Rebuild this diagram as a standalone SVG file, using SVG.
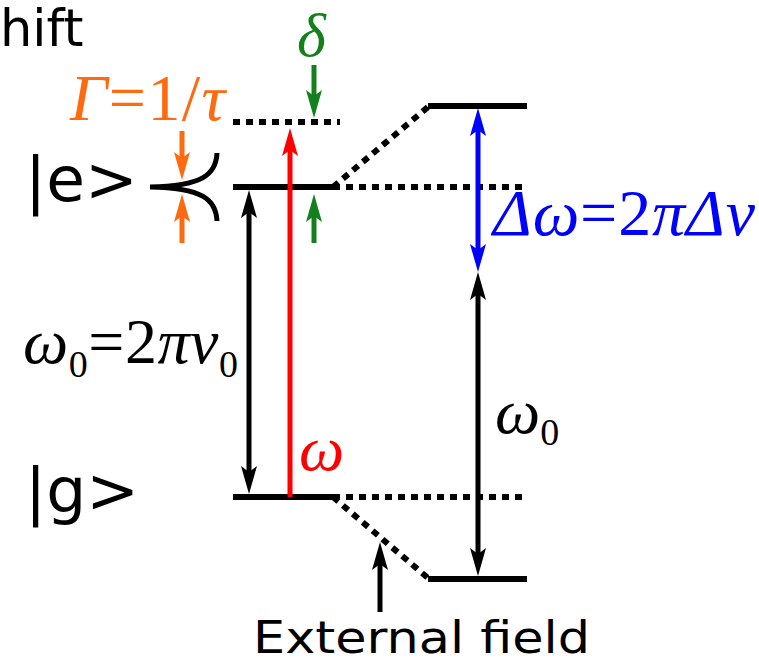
<svg xmlns="http://www.w3.org/2000/svg" width="759" height="664" viewBox="0 0 759 664">
<style>
.lvl{stroke:#000;stroke-width:6;fill:none}
.dot{stroke:#000;stroke-width:6;fill:none;stroke-dasharray:7 6}
.lab{font-family:"DejaVu Sans",Verdana,sans-serif;fill:#000}
.math{font-family:"Liberation Serif","Times New Roman","DejaVu Serif",serif}
.it{font-style:italic}
.arr{fill:none;stroke-width:5}
</style>
<defs>
<marker id="hK" viewBox="0 -10 30 20" markerWidth="30" markerHeight="20" refX="14" refY="0" orient="auto-start-reverse" markerUnits="userSpaceOnUse"><path d="M0,-8 L28,0 L0,8 L6,0 Z" fill="#000"/></marker>
<marker id="hR" viewBox="0 -10 30 20" markerWidth="30" markerHeight="20" refX="14" refY="0" orient="auto-start-reverse" markerUnits="userSpaceOnUse"><path d="M0,-8 L28,0 L0,8 L6,0 Z" fill="#ff0000"/></marker>
<marker id="hB" viewBox="0 -10 30 20" markerWidth="30" markerHeight="20" refX="14" refY="0" orient="auto-start-reverse" markerUnits="userSpaceOnUse"><path d="M0,-8 L28,0 L0,8 L6,0 Z" fill="#0000ff"/></marker>
<marker id="hG" viewBox="0 -10 30 20" markerWidth="30" markerHeight="20" refX="14" refY="0" orient="auto-start-reverse" markerUnits="userSpaceOnUse"><path d="M0,-8 L28,0 L0,8 L6,0 Z" fill="#13801b"/></marker>
<marker id="hO" viewBox="0 -10 30 20" markerWidth="30" markerHeight="20" refX="14" refY="0" orient="auto-start-reverse" markerUnits="userSpaceOnUse"><path d="M0,-8 L28,0 L0,8 L6,0 Z" fill="#ff6a10"/></marker>
</defs>

<text class="lab" x="0" y="46" font-size="51">hift</text>

<g id="level-e">
<line class="lvl" x1="233" y1="187" x2="333" y2="187"/>
<text class="lab" x="25" y="201" font-size="63">|e&gt;</text>
<path d="M217,153 C216,175 202,186 150,187 C202,188 216,199 217,221" fill="none" stroke="#000" stroke-width="5"/>
</g>
<g id="level-virtual">
<line class="dot" x1="233" y1="122" x2="340" y2="122"/>
</g>
<g id="level-g">
<line class="lvl" x1="233" y1="497" x2="333" y2="497"/>
<text class="lab" x="25" y="512" font-size="63">|g&gt;</text>
</g>
<g id="level-e-shifted">
<line class="lvl" x1="428" y1="106" x2="527" y2="106"/>
</g>
<g id="level-g-shifted">
<line class="lvl" x1="428" y1="579" x2="527" y2="579"/>
</g>
<g id="level-e-ref">
<line class="dot" x1="333" y1="187" x2="522" y2="187"/>
</g>
<g id="level-g-ref">
<line class="dot" x1="333" y1="497" x2="522" y2="497"/>
</g>

<g id="connectors">
<line class="dot" x1="333" y1="187" x2="428" y2="107"/>
<line class="dot" x1="333" y1="497" x2="428" y2="578"/>
<line class="arr" stroke="#000" x1="249" y1="204" x2="249" y2="480" marker-start="url(#hK)" marker-end="url(#hK)"/>
<line class="arr" stroke="#ff0000" stroke-width="6" x1="290" y1="497" x2="290" y2="142" marker-end="url(#hR)"/>
<line class="arr" stroke="#0000ff" stroke-width="6" x1="478" y1="122" x2="478" y2="258" marker-start="url(#hB)" marker-end="url(#hB)"/>
<line class="arr" stroke="#000" x1="478" y1="286" x2="478" y2="562" marker-start="url(#hK)" marker-end="url(#hK)"/>
<line class="arr" stroke="#13801b" x1="314" y1="65" x2="314" y2="104" marker-end="url(#hG)"/>
<line class="arr" stroke="#13801b" x1="314" y1="243" x2="314" y2="208" marker-end="url(#hG)"/>
<line class="arr" stroke="#ff6a10" x1="182" y1="131" x2="182" y2="166" marker-end="url(#hO)"/>
<line class="arr" stroke="#ff6a10" x1="182" y1="243" x2="182" y2="208" marker-end="url(#hO)"/>
<line class="arr" stroke="#000" x1="380" y1="612" x2="380" y2="556" marker-end="url(#hK)"/>
</g>

<g id="labels">
<text class="math" x="70" y="120" font-size="66" fill="#ff6a10" textLength="155" lengthAdjust="spacing"><tspan class="it">Γ</tspan>=1/<tspan class="it">τ</tspan></text>
<text class="math it" x="297" y="56" font-size="62" fill="#13801b">δ</text>
<text class="math" x="493" y="235" font-size="66" fill="#0000ff" textLength="262" lengthAdjust="spacing"><tspan class="it">Δω</tspan>=2<tspan class="it">πΔν</tspan></text>
<text class="math" x="23" y="363" font-size="64" fill="#000" textLength="215" lengthAdjust="spacing"><tspan class="it">ω</tspan><tspan font-size="38" dy="14">0</tspan><tspan dy="-14">=2</tspan><tspan class="it">πν</tspan><tspan font-size="38" dy="14">0</tspan></text>
<text class="math it" x="299" y="470" font-size="64" fill="#ff0000">ω</text>
<text class="math" x="495" y="433" font-size="64" fill="#000"><tspan class="it">ω</tspan><tspan font-size="38" dy="12">0</tspan></text>
<text class="lab" x="253" y="653" font-size="44" textLength="337" lengthAdjust="spacingAndGlyphs">External field</text>
</g>
</svg>
